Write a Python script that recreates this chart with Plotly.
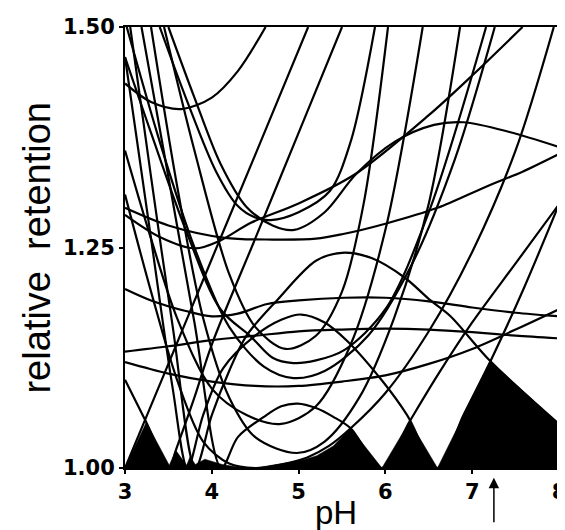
import plotly.graph_objects as go

# ---- window (black area = minimum of all curves) ----
window_ph = [3.0, 3.245, 3.51, 3.585, 3.71, 3.75, 3.81, 3.92, 4.12, 4.3, 4.5, 4.83, 5.05, 5.21, 5.4, 5.6,
             5.96, 6.28, 6.60, 7.21, 8.0, 8.0, 3.0]
window_alpha = [1.0, 1.052, 1.003, 1.02, 1.003, 1.013, 1.004, 1.01, 1.004, 1.001, 1.0, 1.005, 1.009, 1.014, 1.025, 1.045,
                1.0, 1.053, 1.0, 1.121, 1.05, 1.0, 1.0]

# ---- curves: relative retention vs pH ----
c1_ph = [3.0, 3.3, 3.65, 4.0, 4.3, 4.62]
c1_a = [1.436, 1.415, 1.407, 1.42, 1.45, 1.50]

f1_ph = [3.0, 3.5, 4.15, 4.7, 5.2, 5.5, 6.0, 6.6, 7.16, 7.58, 8.0]
f1_a = [1.295, 1.275, 1.261, 1.259, 1.26, 1.265, 1.277, 1.295, 1.319, 1.336, 1.356]

u2_ph = [3.0, 3.4, 3.81, 4.1, 4.45, 5.0, 5.65, 6.5, 7.0, 7.58]
u2_a = [1.287, 1.262, 1.249, 1.258, 1.278, 1.30, 1.333, 1.40, 1.445, 1.50]

u3_ph = [3.40, 3.7, 4.05, 4.3, 4.5, 4.68, 5.0, 5.36, 5.6, 5.88]
u3_a = [1.50, 1.42, 1.336, 1.297, 1.284, 1.281, 1.29, 1.314, 1.37, 1.50]

h1_ph = [3.50, 3.8, 4.1, 4.4, 4.7, 4.95, 5.3, 5.66, 6.11, 6.56, 6.9, 7.43, 8.0]
h1_a = [1.50, 1.42, 1.345, 1.296, 1.275, 1.27, 1.29, 1.333, 1.37, 1.389, 1.392, 1.381, 1.364]

f2_ph = [3.0, 3.3, 3.7, 4.0, 4.3, 4.64, 5.0, 5.53, 6.0, 6.5, 7.0, 7.5, 8.0]
f2_a = [1.203, 1.19, 1.178, 1.172, 1.175, 1.186, 1.19, 1.193, 1.193, 1.189, 1.182, 1.176, 1.172]

f3_ph = [3.0, 3.5, 4.0, 4.5, 5.0, 5.5, 6.0, 6.5, 7.0, 7.5, 8.0]
f3_a = [1.132, 1.138, 1.145, 1.15, 1.155, 1.157, 1.158, 1.157, 1.154, 1.15, 1.147]

r1_ph = [3.0, 3.5, 4.0, 4.5, 5.0, 5.5, 6.0, 6.5, 7.0, 7.5, 8.0]
r1_a = [1.12, 1.107, 1.098, 1.093, 1.093, 1.098, 1.105, 1.118, 1.135, 1.157, 1.18]

h2_ph = [3.06, 3.3, 3.55, 3.81, 4.0, 4.2, 4.4, 4.75, 5.2, 5.5, 5.84, 6.22, 6.52, 6.75, 7.21, 8.0]
h2_a = [1.50, 1.33, 1.16, 1.0, 1.06, 1.11, 1.15, 1.19, 1.235, 1.244, 1.238, 1.216, 1.19, 1.172, 1.121, 1.05]

h3_ph = [3.0, 3.3, 3.55, 3.72, 3.9, 4.13, 4.5, 4.8, 5.03, 5.3, 5.56, 5.97, 6.25, 6.6, 6.9, 7.21, 7.6, 8.0]
h3_a = [1.466, 1.26, 1.09, 1.0, 1.06, 1.113, 1.15, 1.168, 1.174, 1.165, 1.144, 1.098, 1.06, 1.0, 1.06, 1.121, 1.205, 1.299]

h4_ph = [3.19, 3.5, 3.8, 4.11, 4.3, 4.6, 4.8, 4.99, 5.2, 5.4, 5.6, 5.96, 6.28, 6.6, 7.0, 7.5, 8.0]
h4_a = [1.50, 1.33, 1.165, 1.0, 1.035, 1.058, 1.07, 1.073, 1.068, 1.058, 1.045, 1.0, 1.053, 1.105, 1.165, 1.232, 1.299]

p1_ph = [3.0, 3.3, 3.6, 3.9, 4.2, 4.5, 4.8, 5.1, 5.35, 5.6, 6.0, 6.5, 7.0, 7.5, 7.94]
p1_a = [1.31, 1.20, 1.10, 1.03, 1.005, 1.0, 1.004, 1.012, 1.025, 1.045, 1.085, 1.155, 1.245, 1.36, 1.50]

l1_ph = [3.0, 3.5, 4.0, 4.5, 5.11]
l1_a = [1.0, 1.118, 1.237, 1.355, 1.50]

d1_ph = [3.0, 3.245, 3.51, 3.585, 3.8, 4.0, 4.5, 5.0, 5.5]
d1_a = [1.10, 1.052, 1.0, 1.02, 1.08, 1.14, 1.26, 1.38, 1.50]

u5_ph = [3.45, 3.8, 4.2, 4.5, 4.85, 5.2, 5.5, 5.75, 6.03]
u5_a = [1.50, 1.36, 1.22, 1.16, 1.135, 1.15, 1.20, 1.30, 1.50]

u6_ph = [3.0, 3.3, 3.7, 4.1, 4.45, 4.7, 4.94, 5.2, 5.53, 6.0, 6.5, 7.16]
u6_a = [1.466, 1.38, 1.27, 1.18, 1.149, 1.125, 1.119, 1.122, 1.134, 1.18, 1.29, 1.50]

u7_ph = [3.02, 3.4, 3.8, 4.2, 4.6, 4.94, 5.3, 5.8, 6.3, 6.8, 7.26]
u7_a = [1.50, 1.37, 1.25, 1.16, 1.115, 1.102, 1.11, 1.15, 1.23, 1.35, 1.50]

u9_ph = [3.3, 3.6, 3.9, 4.2, 4.5, 4.98, 5.3, 5.7, 6.1, 6.5, 6.86]
u9_a = [1.50, 1.32, 1.17, 1.08, 1.035, 1.017, 1.03, 1.08, 1.17, 1.30, 1.50]

u10_ph = [3.0, 3.3, 3.6, 4.0, 4.4, 4.8, 5.2, 5.6, 6.0, 6.43]
u10_a = [1.36, 1.26, 1.17, 1.09, 1.06, 1.05, 1.07, 1.14, 1.27, 1.50]

curves = [
    (c1_ph, c1_a), (f1_ph, f1_a), (u2_ph, u2_a), (u3_ph, u3_a), (h1_ph, h1_a),
    (f2_ph, f2_a), (f3_ph, f3_a), (r1_ph, r1_a), (h2_ph, h2_a), (h3_ph, h3_a),
    (h4_ph, h4_a), (p1_ph, p1_a), (l1_ph, l1_a), (d1_ph, d1_a), (u5_ph, u5_a),
    (u6_ph, u6_a), (u7_ph, u7_a), (u9_ph, u9_a), (u10_ph, u10_a),
]

x_ticks = [3, 4, 5, 6, 7, 8]
y_ticks = [1.00, 1.25, 1.50]
y_tick_text = ["1.00", "1.25", "1.50"]
arrow_ph = 7.25

fig = go.Figure()
fig.add_trace(go.Scatter(x=window_ph, y=window_alpha, mode="lines", fill="toself",
                         fillcolor="black", line=dict(color="black", width=0.5),
                         hoverinfo="skip", showlegend=False))
for xs, ys in curves:
    fig.add_trace(go.Scatter(x=xs, y=ys, mode="lines",
                             line=dict(color="black", width=2.2, shape="spline", smoothing=0.9),
                             hoverinfo="skip", showlegend=False))

tick_font = dict(family="DejaVu Sans, sans-serif", size=21, color="black", weight="bold")
fig.update_xaxes(range=[3, 8], tickvals=x_ticks, ticktext=[str(v) for v in x_ticks],
                 showline=True, mirror=True, linecolor="black", linewidth=2,
                 ticks="outside", ticklen=4, tickcolor="black", tickwidth=1.5,
                 showgrid=False, zeroline=False, tickfont=tick_font)
fig.update_yaxes(range=[1.0, 1.5], tickvals=y_ticks, ticktext=y_tick_text,
                 showline=True, mirror=True, linecolor="black", linewidth=2,
                 ticks="outside", ticklen=4, tickcolor="black", tickwidth=1.5,
                 showgrid=False, zeroline=False, tickfont=tick_font)

fig.add_annotation(x=0.487, y=-0.1, xref="paper", yref="paper", text="pH",
                   showarrow=False, xanchor="center", yanchor="middle",
                   font=dict(family="Liberation Sans, Arial, sans-serif", size=33, color="black"))
fig.add_annotation(x=-0.205, y=0.5, xref="paper", yref="paper", text="relative  retention",
                   textangle=-90, showarrow=False, xanchor="center", yanchor="middle",
                   font=dict(family="Liberation Sans, Arial, sans-serif", size=38, color="black"))
fig.add_annotation(x=arrow_ph, y=-0.022, xref="x", yref="paper", text="",
                   showarrow=True, ax=0, ay=46, axref="pixel", ayref="pixel",
                   arrowhead=2, arrowsize=1.4, arrowwidth=1.5, arrowcolor="black")

fig.update_layout(width=565, height=530, margin=dict(l=117, r=7, t=17, b=70),
                  paper_bgcolor="white", plot_bgcolor="white", showlegend=False)
fig.write_html("out.html")
